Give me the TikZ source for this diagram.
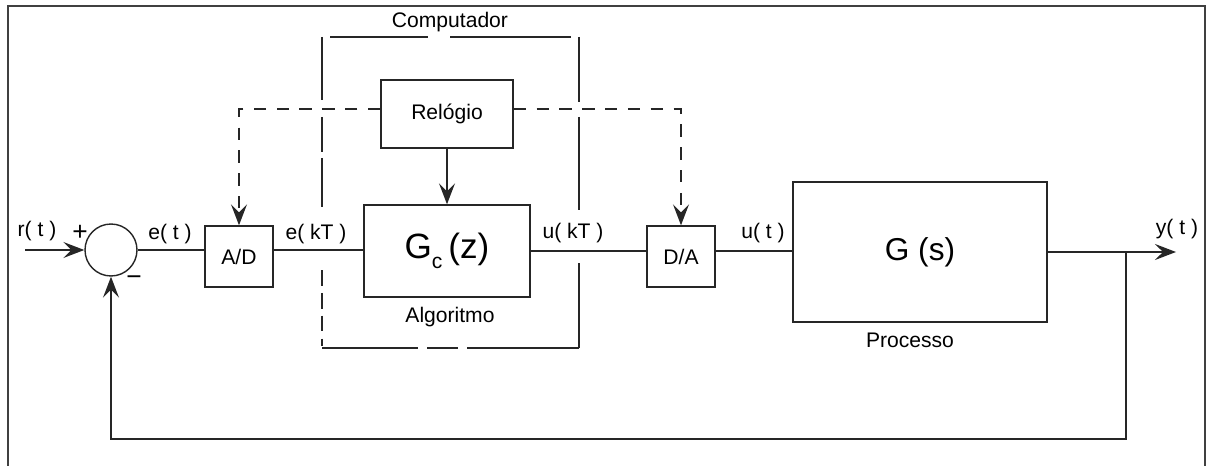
\documentclass[tikz,border=0pt]{standalone}
\usepackage{fontspec}
\setmainfont{Liberation Sans}
\usetikzlibrary{arrows.meta,calc}
\begin{document}
\begin{tikzpicture}[x=0.02cm,y=-0.02cm,
 line/.style={line width=0.8pt, draw=black!85},
 blk/.style={draw=black!85, line width=0.8pt, rectangle, inner sep=0pt},
 arr/.style={-{Stealth[length=0.42cm,width=0.32cm,inset=0.16cm]}},
 clk/.style={line, dash pattern=on 7pt off 6pt},
 lbl/.style={font=\fontsize{12}{14}\selectfont, inner sep=0pt},
 sgn/.style={font=\fontsize{15}{17}\selectfont, inner sep=0pt},
 big/.style={font=\fontsize{18}{21}\selectfont},
]
\useasboundingbox (0,0) rectangle (1208,466);
% outer frame
\draw[line width=1pt, black!75] (8,470) -- (8,6) -- (1205,6) -- (1205,470);

% blocks
\node[draw=black!85, line width=0.8pt, circle, minimum size=1.04cm, inner sep=0pt] (sum) at (111,250) {};
\node[blk, minimum width=1.36cm, minimum height=1.22cm, lbl] (ad) at (239,256.5) {A/D};
\node[blk, minimum width=3.32cm, minimum height=1.84cm, font=\fontsize{20}{23}\selectfont] (gc) at (447,251) {G\raisebox{-6pt}{\fontsize{12}{13}\selectfont c}\,(z)};
\node[blk, minimum width=2.64cm, minimum height=1.36cm, lbl] (clock) at (447,114) {Relógio};
\node[blk, minimum width=1.36cm, minimum height=1.22cm, lbl] (da) at (681,256.5) {D/A};
\node[blk, minimum width=5.08cm, minimum height=2.8cm, big] (gs) at (920,252) {G (s)};

% coordinates
\coordinate (in) at (25,250);
\coordinate (br) at (1126,252);
\coordinate (out) at (1176,252);
\coordinate (fbr) at (1126,439);
\coordinate (fbl) at (111,439);

% signal path
\draw[line, arr] (in) -- (sum.west);
\draw[line] (sum.east) -- (sum.east -| ad.west);
\draw[line] (ad.east |- sum.east) -- (gc.west |- sum.east);
\draw[line] (gc.east) -- (gc.east -| da.west);
\draw[line] (da.east |- gc.east) -- (gs.west |- gc.east);
\draw[line, arr] (gs.east) -- (out);
\draw[line, arr] (br) -- (fbr) -- (fbl) -- (sum.south);

% clock
\draw[line, arr] (clock.south) -- (gc.north);
\draw[clk, arr] ([yshift=0.1cm]clock.west) -| (ad.north);
\draw[clk, arr] ([yshift=0.1cm]clock.east) -| (da.north);

% Computador frame (broken where lines cross)
\draw[line] (322,37) -- (322,100);
\draw[line] (322,117) -- (322,152);
\draw[line] (322,158) -- (322,207);
\draw[line, dash pattern=on 9pt off 4pt] (322,270) -- (322,346);
\draw[line] (330,37) -- (428,37);
\draw[line] (450,37) -- (571,37);
\draw[line] (579,37) -- (579,102);
\draw[line] (579,117) -- (579,210);
\draw[line] (579,263) -- (579,348);
\draw[line] (322,348) -- (418,348);
\draw[line] (427,348) -- (458,348);
\draw[line] (467,348) -- (579,348);

% labels
\node[lbl] (lr) at (37,231) {r( t )};
\node[sgn] (lp) at (80,233) {+};
\node[sgn] (lm) at (134,281) {−};
\node[lbl] (le) at (170,234) {e( t )};
\node[lbl] (lek) at (316,234) {e( kT )};
\node[lbl] (luk) at (573,233) {u( kT )};
\node[lbl] (lu) at (763,233) {u( t )};
\node[lbl] (ly) at (1177,229) {y( t )};
\node[lbl] (lcomp) at (450,22) {Computador};
\node[lbl] (lalg) at (450,317) {Algoritmo};
\node[lbl] (lproc) at (910,340) {Processo};
\end{tikzpicture}
\end{document}
